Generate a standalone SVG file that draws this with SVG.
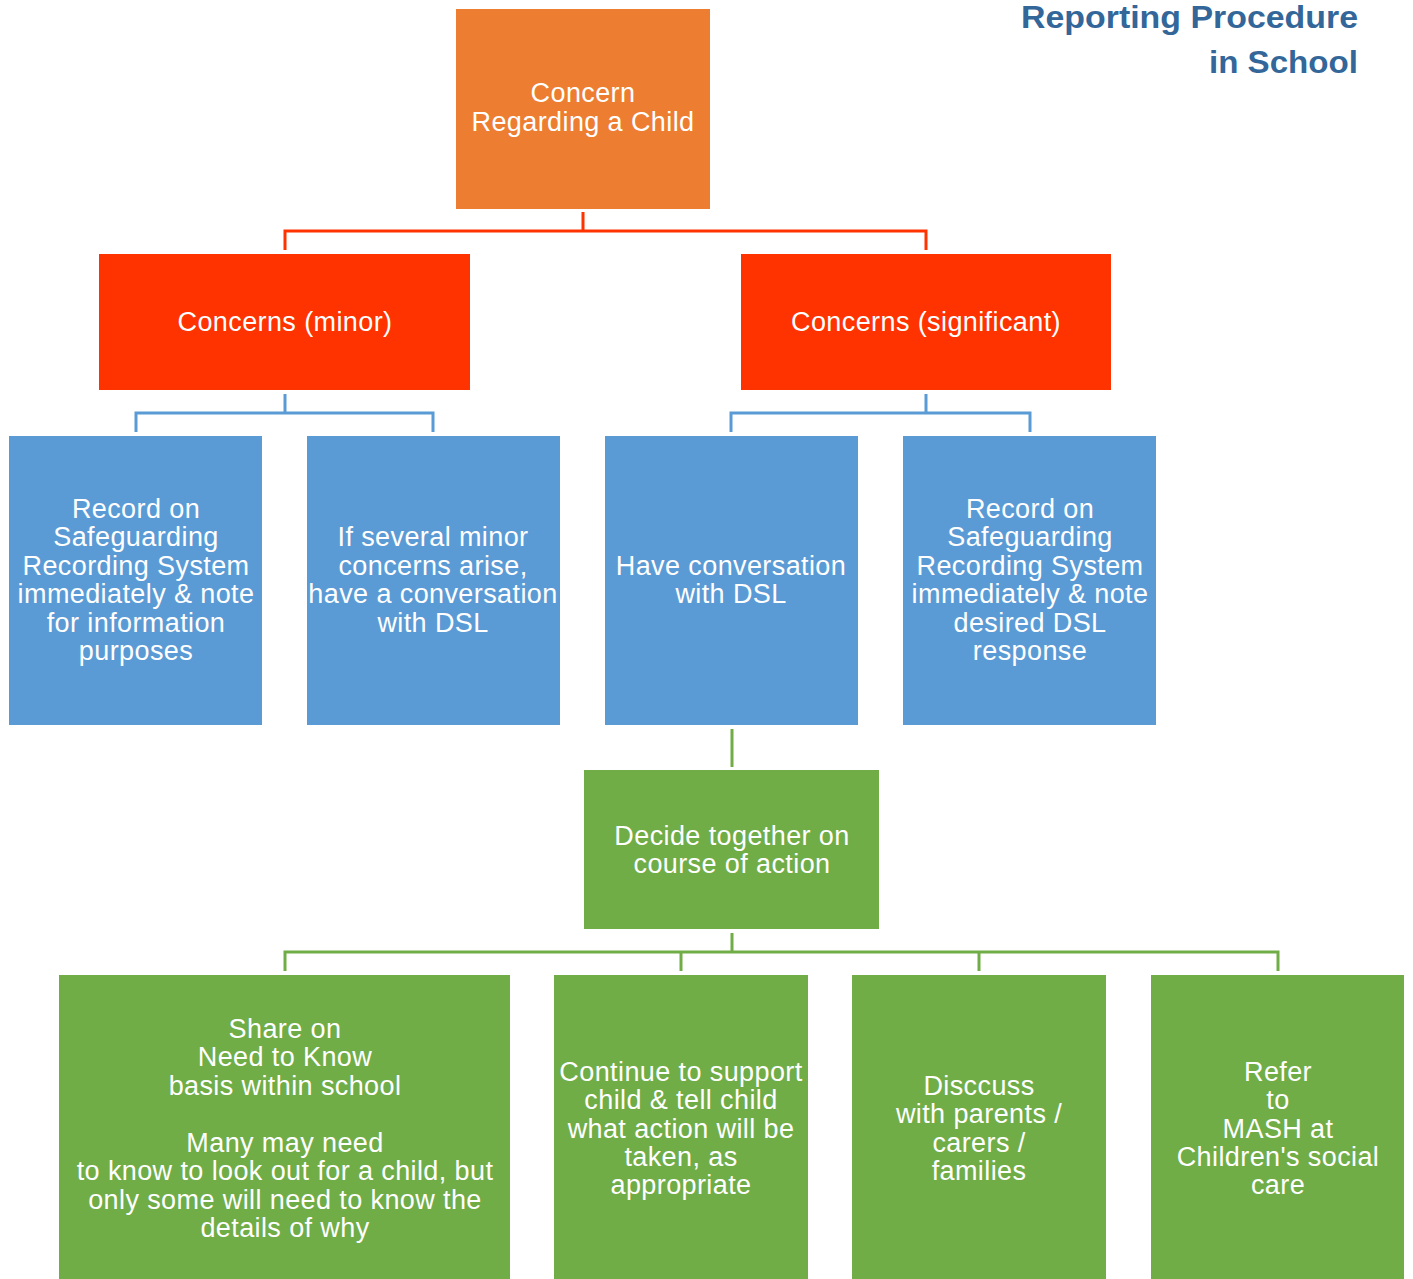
<svg xmlns="http://www.w3.org/2000/svg" width="1413" height="1279" viewBox="0 0 1413 1279">
<style>
text{font-family:"Liberation Sans",Arial,sans-serif;font-size:27px;letter-spacing:0.4px;fill:#fff;text-anchor:middle}
.title{font-family:"Liberation Sans",Arial,sans-serif;font-weight:bold;font-size:32px;letter-spacing:0;fill:#336699;text-anchor:end}
.orange{fill:#ED7D31}.red{fill:#FF3300}.blue{fill:#5B9BD5}.green{fill:#70AD47}
.lr{stroke:#FF3300;stroke-width:3;fill:none}.lb{stroke:#5B9BD5;stroke-width:3;fill:none}.lg{stroke:#70AD47;stroke-width:3;fill:none}
</style>
<rect width="1413" height="1279" fill="#fff"/>
<g id="title">
<text class="title" x="1358" y="28" textLength="337" lengthAdjust="spacingAndGlyphs">Reporting Procedure</text>
<text class="title" x="1358" y="73" textLength="149" lengthAdjust="spacingAndGlyphs">in School</text>
</g>
<g id="connectors">
<path class="lr" d="M583 212V231M285 250V231H926V250"/>
<path class="lb" d="M285 394V413M136 432V413H433V432"/>
<path class="lb" d="M926 394V413M731 432V413H1030V432"/>
<path class="lg" d="M732 729V767"/>
<path class="lg" d="M732 933V952M285 971V952H1278V971M681 952V971M979 952V971"/>
</g>
<g id="n-concern">
<rect class="orange" x="456" y="9" width="254" height="200"/>
<text x="583" y="102">Concern</text>
<text x="583" y="131">Regarding a Child</text>
</g>
<g id="n-minor">
<rect class="red" x="99" y="254" width="371" height="136"/>
<text x="285" y="331">Concerns (minor)</text>
</g>
<g id="n-significant">
<rect class="red" x="741" y="254" width="370" height="136"/>
<text x="926" y="331">Concerns (significant)</text>
</g>
<g id="n-record1">
<rect class="blue" x="9" y="436" width="253" height="289"/>
<text x="136" y="518">Record on</text>
<text x="136" y="546">Safeguarding</text>
<text x="136" y="575">Recording System</text>
<text x="136" y="603">immediately &amp; note</text>
<text x="136" y="632">for information</text>
<text x="136" y="660">purposes</text>
</g>
<g id="n-several">
<rect class="blue" x="307" y="436" width="253" height="289"/>
<text x="433" y="546">If several minor</text>
<text x="433" y="575">concerns arise,</text>
<text x="433" y="603">have a conversation</text>
<text x="433" y="632">with DSL</text>
</g>
<g id="n-conversation">
<rect class="blue" x="605" y="436" width="253" height="289"/>
<text x="731" y="575">Have conversation</text>
<text x="731" y="603">with DSL</text>
</g>
<g id="n-record2">
<rect class="blue" x="903" y="436" width="253" height="289"/>
<text x="1030" y="518">Record on</text>
<text x="1030" y="546">Safeguarding</text>
<text x="1030" y="575">Recording System</text>
<text x="1030" y="603">immediately &amp; note</text>
<text x="1030" y="632">desired DSL</text>
<text x="1030" y="660">response</text>
</g>
<g id="n-decide">
<rect class="green" x="584" y="770" width="295" height="159"/>
<text x="732" y="845">Decide together on</text>
<text x="732" y="873">course of action</text>
</g>
<g id="n-share">
<rect class="green" x="59" y="975" width="451" height="304"/>
<text x="285" y="1038">Share on</text>
<text x="285" y="1066">Need to Know</text>
<text x="285" y="1095">basis within school</text>
<text x="285" y="1152">Many may need</text>
<text x="285" y="1180">to know to look out for a child, but</text>
<text x="285" y="1209">only some will need to know the</text>
<text x="285" y="1237">details of why</text>
</g>
<g id="n-continue">
<rect class="green" x="554" y="975" width="254" height="304"/>
<text x="681" y="1081">Continue to support</text>
<text x="681" y="1109">child &amp; tell child</text>
<text x="681" y="1138">what action will be</text>
<text x="681" y="1166">taken, as</text>
<text x="681" y="1194">appropriate</text>
</g>
<g id="n-discuss">
<rect class="green" x="852" y="975" width="254" height="304"/>
<text x="979" y="1095">Disccuss</text>
<text x="979" y="1123">with parents /</text>
<text x="979" y="1152">carers /</text>
<text x="979" y="1180">families</text>
</g>
<g id="n-refer">
<rect class="green" x="1151" y="975" width="253" height="304"/>
<text x="1278" y="1081">Refer</text>
<text x="1278" y="1109">to</text>
<text x="1278" y="1138">MASH at</text>
<text x="1278" y="1166">Children's social</text>
<text x="1278" y="1194">care</text>
</g>
</svg>
